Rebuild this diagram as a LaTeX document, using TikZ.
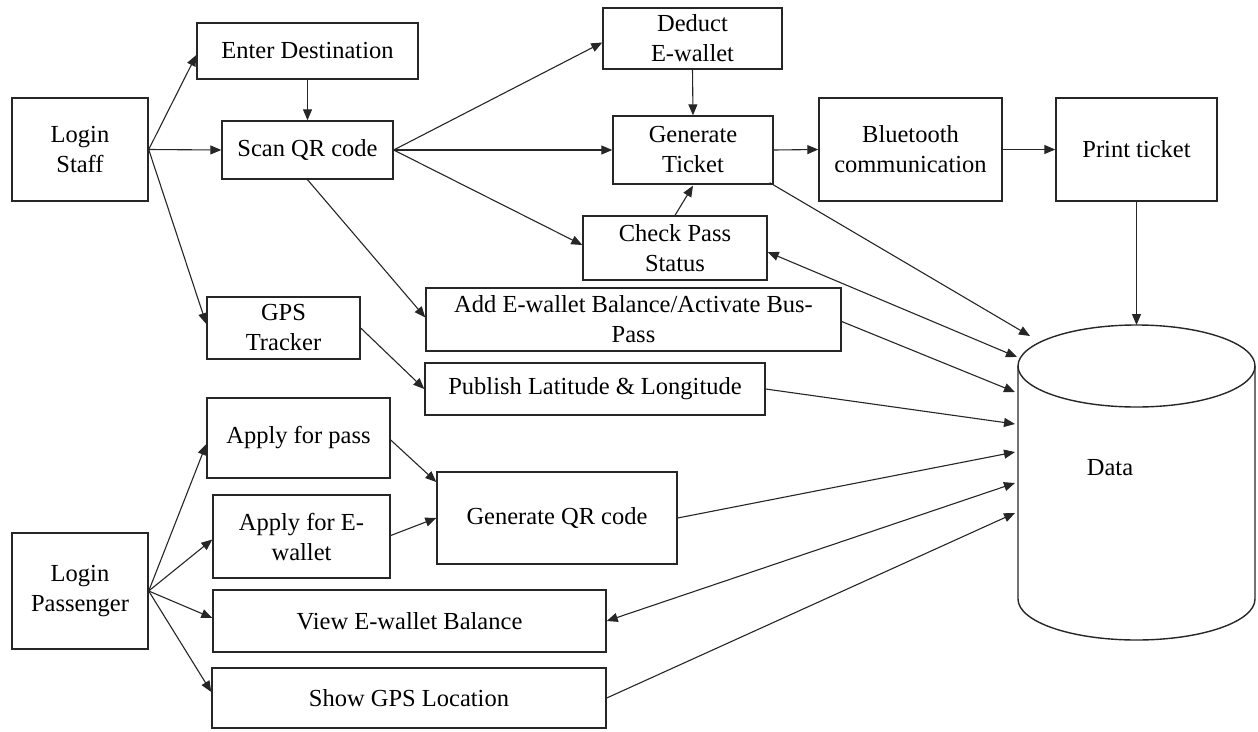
\documentclass[tikz,border=0pt]{standalone}
\usepackage{fontspec}
\setmainfont{Liberation Serif}
\usetikzlibrary{arrows.meta,calc}
\begin{document}
\begin{tikzpicture}[x=1pt,y=-1pt,
  box/.style={draw=black!85, line width=1.4pt, align=center, inner sep=0pt,
    font=\fontsize{24.5}{30}\selectfont},
  arr/.style={draw=black!85, line width=1.1pt, -{Triangle[length=11pt,width=9pt]}},
  darr/.style={draw=black!85, line width=1.1pt, {Triangle[length=11pt,width=9pt]}-{Triangle[length=11pt,width=9pt]}}]
\useasboundingbox (0,0) rectangle (1258,731);

% boxes
\node[box, minimum width=136pt, minimum height=103pt] (lstaff) at (80,149.5) {Login\\Staff};
\node[box, minimum width=221pt, minimum height=56pt] (enter) at (307.5,51) {Enter Destination};
\node[box, minimum width=171pt, minimum height=58pt] (scan) at (307.5,150) {Scan QR code};
\node[box, minimum width=179pt, minimum height=61pt] (deduct) at (692.5,38.5) {Deduct\\E-wallet};
\node[box, minimum width=160pt, minimum height=68pt] (gent) at (693,150) {Generate\\Ticket};
\node[box, minimum width=184pt, minimum height=64pt] (check) at (675,248) {Check Pass\\Status};
\node[box, minimum width=183pt, minimum height=103pt] (blue) at (910.5,149.5) {Bluetooth\\communication};
\node[box, minimum width=161pt, minimum height=103pt] (print) at (1136.5,149.5) {Print ticket};
\node[box, minimum width=153pt, minimum height=62pt] (gps) at (283.5,328) {GPS\\Tracker};
\node[box, minimum width=415pt, minimum height=63pt] (add) at (633.5,319.5) {Add E-wallet Balance/Activate Bus-\\Pass};
\node[box, minimum width=340pt, minimum height=52pt] (publish) at (595,389) {Publish Latitude \& Longitude};
\node[box, minimum width=183pt, minimum height=80pt] (applyp) at (298.5,438) {Apply for pass};
\node[box, minimum width=177pt, minimum height=83pt] (applye) at (301.5,536.5) {Apply for E-\\wallet};
\node[box, minimum width=240pt, minimum height=92pt] (genqr) at (557,518) {Generate QR code};
\node[box, minimum width=136pt, minimum height=116pt] (lpass) at (80,591) {Login\\Passenger};
\node[box, minimum width=393pt, minimum height=62pt] (view) at (409.5,621) {View E-wallet Balance};
\node[box, minimum width=394pt, minimum height=60pt] (show) at (409,698) {Show GPS Location};

% data cylinder
\draw[draw=black!85, line width=1.4pt] (1018,366) -- (1018,599)
  arc[start angle=180, end angle=0, x radius=118.5, y radius=41] -- (1255,366);
\draw[draw=black!85, line width=1.4pt] (1136.5,366) ellipse [x radius=118.5, y radius=41];
\node[inner sep=0pt, font=\fontsize{24.5}{30}\selectfont] (data) at (1110,468) {Data};
\coordinate (dtop) at (1136.5,325);
\coordinate (d1) at (1030,336);
\coordinate (d2) at (1017,357);
\coordinate (d3) at (1015,392);
\coordinate (d4) at (1015,424);
\coordinate (d5) at (1015,452);
\coordinate (d6) at (1015,483);
\coordinate (d7) at (1015,513);

% staff connectors
\draw[arr] (lstaff.east) -- ($(enter.west)+(0,4)$);
\draw[arr] (lstaff.east) -- (scan.west);
\draw[arr] (lstaff.east) -- ($(gps.west)+(0,-4)$);
\draw[arr] (enter.south) -- (scan.north);
\draw[arr] (scan.east) -- ($(deduct.west)+(0,4)$);
\draw[arr] (scan.east) -- (gent.west);
\draw[arr] (scan.east) -- ($(check.west)+(0,-3)$);
\draw[arr] (scan.south) -- ($(add.west)+(0,-2)$);
\draw[arr] (deduct.south) -- (gent.north);
\draw[arr] (check.north) -- ($(gent.south)+(0,1)$);
\draw[arr] (gent.east) -- (blue.west);
\draw[arr] (blue.east) -- (print.west);
\draw[arr] (print.south) -- (dtop);
\draw[arr] ($(gent.south east)+(-4,-2)$) -- (d1);
\draw[darr] ($(check.east)+(0,4)$) -- (d2);
\draw[arr] ($(add.east)+(0,2)$) -- (d3);
\draw[arr] (gps.east) -- (publish.west);
\draw[arr] (publish.east) -- (d4);
\draw[arr] (genqr.east) -- (d5);
\draw[darr] (view.east) -- (d6);
\draw[arr] (show.east) -- (d7);

% passenger connectors
\draw[arr] (lpass.east) -- ($(applyp.west)+(0,6)$);
\draw[arr] (lpass.east) -- ($(applye.west)+(0,3)$);
\draw[arr] (lpass.east) -- ($(view.west)+(0,-3)$);
\draw[arr] (lpass.east) -- ($(show.west)+(0,-6)$);
\draw[arr] ($(applyp.east)+(0,2)$) -- ($(genqr.west)+(0,-36)$);
\draw[arr] ($(applye.east)+(0,-1)$) -- (genqr.west);
\end{tikzpicture}
\end{document}
